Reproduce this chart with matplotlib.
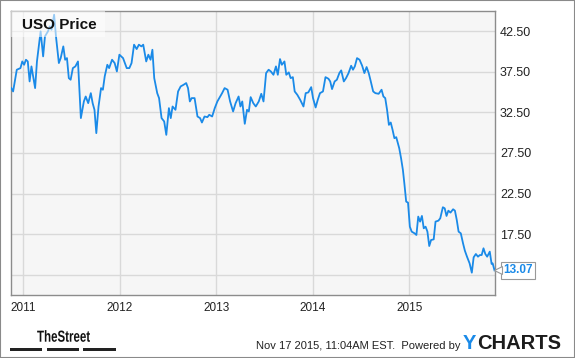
import matplotlib.pyplot as plt
from matplotlib.patches import Rectangle, PathPatch
from matplotlib.transforms import offset_copy, Affine2D
from matplotlib.textpath import TextPath
from matplotlib.font_manager import FontProperties

plt.rcParams['font.family'] = ['Liberation Sans', 'DejaVu Sans']

# weekly-ish USO closes, x in decimal years
t = [2010.875, 2010.894, 2010.932, 2010.970, 2010.989, 2011.008, 2011.027, 2011.046, 2011.065, 2011.084,
     2011.122, 2011.141, 2011.179, 2011.205, 2011.224, 2011.255, 2011.274, 2011.292, 2011.319, 2011.338,
     2011.368, 2011.387, 2011.414, 2011.433, 2011.452, 2011.471, 2011.490, 2011.513, 2011.539, 2011.566,
     2011.596, 2011.627, 2011.646, 2011.672, 2011.699, 2011.718, 2011.737, 2011.756, 2011.779, 2011.805,
     2011.824, 2011.843, 2011.870, 2011.889, 2011.919, 2011.946, 2011.969, 2011.995, 2012.033, 2012.071,
     2012.098, 2012.121, 2012.147, 2012.174, 2012.197, 2012.223, 2012.242, 2012.273, 2012.295, 2012.318,
     2012.337, 2012.356, 2012.387, 2012.406, 2012.432, 2012.459, 2012.481, 2012.508, 2012.527, 2012.546,
     2012.576, 2012.603, 2012.630, 2012.660, 2012.687, 2012.706, 2012.725, 2012.744, 2012.774, 2012.804,
     2012.831, 2012.850, 2012.877, 2012.907, 2012.926, 2012.956, 2012.983, 2013.010, 2013.040, 2013.059,
     2013.085, 2013.116, 2013.142, 2013.173, 2013.199, 2013.230, 2013.249, 2013.268, 2013.294, 2013.317,
     2013.336, 2013.355, 2013.382, 2013.408, 2013.439, 2013.465, 2013.488, 2013.515, 2013.541, 2013.564,
     2013.591, 2013.617, 2013.636, 2013.659, 2013.678, 2013.705, 2013.724, 2013.750, 2013.769, 2013.792,
     2013.811, 2013.838, 2013.868, 2013.902, 2013.925, 2013.952, 2013.982, 2014.001, 2014.028, 2014.050,
     2014.073, 2014.104, 2014.130, 2014.161, 2014.179, 2014.198, 2014.225, 2014.248, 2014.274, 2014.293,
     2014.320, 2014.343, 2014.369, 2014.396, 2014.415, 2014.434, 2014.457, 2014.483, 2014.510, 2014.533,
     2014.556, 2014.578, 2014.597, 2014.624, 2014.647, 2014.681, 2014.711, 2014.730, 2014.749, 2014.768,
     2014.787, 2014.806, 2014.825, 2014.844, 2014.863, 2014.894, 2014.913, 2014.932, 2014.947, 2014.966,
     2014.985, 2015.004, 2015.023, 2015.053, 2015.072, 2015.091, 2015.110, 2015.129, 2015.148, 2015.167,
     2015.186, 2015.205, 2015.224, 2015.251, 2015.270, 2015.300, 2015.319, 2015.346, 2015.365, 2015.384,
     2015.403, 2015.425, 2015.452, 2015.471, 2015.490, 2015.509, 2015.532, 2015.555, 2015.574, 2015.596,
     2015.623, 2015.646, 2015.665, 2015.688, 2015.710, 2015.729, 2015.748, 2015.767, 2015.786, 2015.805,
     2015.832, 2015.851, 2015.862, 2015.881]

price = [35.48, 35.07, 37.74, 37.94, 38.76, 38.35, 38.97, 38.76, 36.30, 38.15,
         35.48, 38.76, 42.46, 39.38, 41.84, 42.46, 43.07, 42.66, 44.51, 41.84,
         38.56, 39.17, 40.61, 38.97, 39.17, 36.71, 36.51, 37.94, 38.15, 38.76,
         31.79, 33.84, 34.45, 33.63, 34.86, 33.63, 32.81, 29.94, 33.22, 35.48,
         35.28, 36.92, 38.35, 37.94, 38.97, 38.56, 37.53, 39.59, 39.17, 37.94,
         37.94, 38.56, 40.82, 40.28, 40.82, 40.61, 40.82, 38.76, 39.59, 38.97,
         40.20, 36.71, 34.86, 34.25, 31.79, 31.38, 29.73, 33.02, 31.79, 33.22,
         32.81, 35.07, 35.69, 35.89, 36.10, 35.48, 33.84, 34.25, 34.25, 31.99,
         31.79, 31.25, 31.99, 31.91, 32.20, 31.99, 33.02, 33.84, 34.45, 34.86,
         35.48, 35.28, 33.84, 32.61, 33.63, 34.45, 33.22, 33.84, 31.09, 32.81,
         32.61, 34.37, 33.63, 33.22, 33.84, 34.78, 33.84, 37.33, 37.74, 37.53,
         37.12, 38.15, 37.12, 39.05, 38.35, 38.76, 37.12, 37.41, 36.71, 36.83,
         35.07, 34.66, 34.04, 33.22, 34.86, 34.95, 35.60, 34.25, 33.10, 34.04,
         34.86, 35.07, 36.83, 36.63, 36.30, 35.36, 36.30, 36.51, 37.33, 37.66,
         36.30, 36.71, 37.33, 38.23, 37.74, 38.15, 39.17, 38.97, 38.23, 37.33,
         38.07, 37.33, 36.42, 35.07, 34.86, 34.78, 35.28, 34.45, 34.25, 32.81,
         30.96, 31.25, 30.35, 29.32, 29.45, 28.09, 26.86, 25.42, 23.78, 21.52,
         21.40, 18.44, 17.83, 17.62, 17.42, 19.68, 19.06, 19.76, 18.24, 18.44,
         17.83, 16.06, 16.80, 16.88, 19.06, 19.18, 19.47, 20.83, 20.70, 19.76,
         20.41, 20.17, 20.58, 20.41, 19.27, 17.83, 17.62, 16.39, 15.49, 14.75,
         13.93, 12.78, 14.67, 15.08, 14.75, 14.95, 14.95, 15.78, 15.08, 14.75,
         15.37, 13.85, 13.93, 13.07]

years = [2011, 2012, 2013, 2014, 2015]
y_ticks = [12.5, 17.5, 22.5, 27.5, 32.5, 37.5, 42.5]

blue = '#1a8ae8'
W, H = 575, 358

fig = plt.figure(figsize=(5.75, 3.58), dpi=100)
ax = fig.add_axes([10.5 / W, 1 - 295.3 / H, 484 / W, 284.6 / H])
ax.set_facecolor('#f6f6f6')

ax.plot(t, price, color=blue, lw=1.3, zorder=3)
ax.set_xlim(2010.867, 2015.881)
ax.set_ylim(10, 45)

ax.set_xticks(years)
ax.set_xticklabels([str(y) for y in years], fontsize=8.5, color='#222222')
ax.set_yticks(y_ticks)
# lowest label is covered by the last-value box
ax.set_yticklabels([''] + ['%.2f' % v for v in y_ticks[1:]], fontsize=9, color='#222222')
ax.yaxis.tick_right()
ax.tick_params(axis='both', length=0)
ax.tick_params(axis='y', pad=4)
ax.tick_params(axis='x', pad=5)
ax.grid(True, color='#d9d9d9', lw=1)
ax.set_axisbelow(True)
for s in ax.spines.values():
    s.set_color('#8c8c8c')
    s.set_linewidth(1)

# title box
ax.add_patch(Rectangle((0, 1 - 26 / 284.6), 94.5 / 484, 26 / 284.6, transform=ax.transAxes,
                       facecolor='white', alpha=0.55, edgecolor='none', zorder=4))
ax.text(11.2 / 484, 1 - 18.6 / 284.6, 'USO Price', transform=ax.transAxes, fontsize=11,
        fontweight='bold', color='#111111', va='baseline', ha='left', zorder=5)

# last value flag
tr = offset_copy(ax.transData, fig=fig, x=3.5, y=0, units='dots')
ax.plot(t[-1:], price[-1:], marker='<', ms=6, mfc='white', mec='#999999', mew=0.8,
        ls='none', transform=tr, clip_on=False, zorder=6)
ax.annotate('%.2f' % price[-1], xy=(t[-1], price[-1]), xytext=(6.2, 0), textcoords='offset points',
            ha='left', va='center', color=blue, fontweight='bold', fontsize=8.5,
            bbox=dict(boxstyle='square,pad=0.22', fc='white', ec='#999999', lw=0.8),
            annotation_clip=False, zorder=5)

# footer: condensed "TheStreet" logo
logo = TextPath((0, 0), 'TheStreet', size=16,
                prop=FontProperties(family='Liberation Sans', weight='bold'))
fig.add_artist(PathPatch(logo, transform=Affine2D().scale(0.72, 1).translate(37, H - 341.7),
                         facecolor='#111111', edgecolor='none'))
for x0 in [10, 46.7, 83.3]:
    fig.add_artist(Rectangle((x0 / W, 1 - 351 / H), 32.4 / W, 3 / H, transform=fig.transFigure,
                             facecolor='#222222', edgecolor='none'))
fig.text(460 / W, 1 - 349 / H, 'Nov 17 2015, 11:04AM EST.  Powered by', fontsize=8,
         color='#222222', ha='right', va='baseline')
fig.text(463 / W, 1 - 349 / H, 'Y', fontsize=14.5, fontweight='bold', color=blue,
         ha='left', va='baseline')
fig.text(477 / W, 1 - 349 / H, 'CHARTS', fontsize=14.5, fontweight='bold', color='#1c1c1c',
         ha='left', va='baseline')

# outer frame
fig.add_artist(Rectangle((0, 0), 1, 1, transform=fig.transFigure, fill=False,
                         edgecolor='#8a8a8a', lw=1.5))

fig.savefig('out.png', dpi=100)
